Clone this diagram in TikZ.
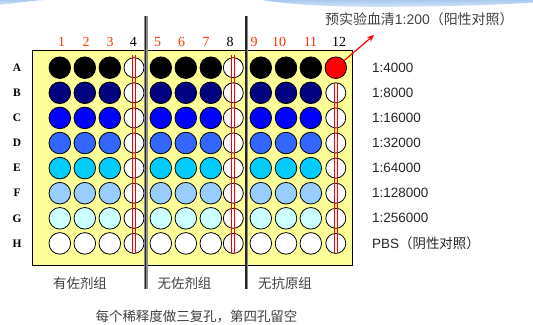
\documentclass[tikz,border=0pt]{standalone}
\usepackage{fontspec}
\setmainfont{Liberation Sans}
\newfontfamily\cjk{Noto Sans CJK SC}
\newfontfamily\tms{Liberation Serif}
\usetikzlibrary{arrows.meta}
\definecolor{plate}{HTML}{FFFF99}
\definecolor{cB}{HTML}{000080}
\definecolor{cC}{HTML}{0000FF}
\definecolor{cD}{HTML}{3366FF}
\definecolor{cE}{HTML}{00CCFF}
\definecolor{cF}{HTML}{99CCFF}
\definecolor{cG}{HTML}{CCFFFF}
\definecolor{cH}{HTML}{FFFFFF}
\definecolor{cA}{HTML}{000000}
\definecolor{numred}{HTML}{FF3300}
\definecolor{wavedark}{HTML}{A9C9EE}
\definecolor{wavelight}{HTML}{DCEBF9}
\tikzset{
  well/.style={circle, draw=black, line width=0.8bp, inner sep=0pt, minimum size=21.6bp},
  ctrl/.style={circle, draw=black, line width=0.8bp, inner sep=0pt, minimum size=20bp, fill=white},
  colnum/.style={font=\tms\fontsize{14}{16}\selectfont, inner sep=0pt},
  rowlab/.style={font=\tms\bfseries\fontsize{11.5}{13}\selectfont, inner sep=0pt},
  ratio/.style={font=\fontsize{13.5}{16}\selectfont, anchor=west, inner sep=0pt, text=black!85},
  cjklab/.style={font=\cjk\fontsize{13.5}{16}\selectfont, inner sep=0pt, text=black!75},
  redline/.style={red, line width=0.9bp},
}
\begin{document}
\begin{tikzpicture}[x=1bp,y=-1bp]
\useasboundingbox (0,0) rectangle (533,324);
% template wave
\shade[top color=wavedark, bottom color=wavelight] (262,0) .. controls (310,8) and (380,7) .. (420,6.5) .. controls (470,6) and (510,4) .. (533,2.5) -- (533,0) -- cycle;
\shade[top color=wavedark, bottom color=wavelight] (0,5) .. controls (15,3) and (30,1) .. (44,0) -- (0,0) -- cycle;
% plate
\draw[fill=plate, line width=0.8bp] (32,50.7) rectangle (352.7,265);
% wells
\foreach \row/\y in {A/67.7,B/92.8,C/117.9,D/143.0,E/168.1,F/193.2,G/218.3,H/243.4}{
  \foreach \c/\x in {1/59.8,2/84.8,3/109.8,5/160.8,6/185.8,7/210.8,9/260.8,10/286,11/310.8}{
    \node[well, fill=c\row] (w\row\c) at (\x,\y) {};
  }
  \node[ctrl] (w\row4) at (134,\y) {};
  \node[ctrl] (w\row8) at (233.3,\y) {};
  \node[rowlab] (r\row) at (17,\y) {\row};
}
\foreach \row/\y in {B/92.8,C/117.9,D/143.0,E/168.1,F/193.2,G/218.3,H/243.4}{
  \node[ctrl] (w\row12) at (335.8,\y) {};
}
\node[well, fill=red] (wA12) at (335.8,67.7) {};
% red stripes in empty columns
\foreach \x in {134,233.3}{
  \draw[redline] (\x-1.6,55) -- (\x-1.6,253.4);
  \draw[redline] (\x+1.6,55) -- (\x+1.6,253.4);
}
\draw[redline] (335.8-1.6,82.8) -- (335.8-1.6,253.4);
\draw[redline] (335.8+1.6,82.8) -- (335.8+1.6,253.4);
% dividers
\foreach \x in {145.5,246}{
  \draw[black!45, line width=3.4bp] (\x+0.4,15.7) -- (\x+0.4,289);
  \draw[black!85, line width=1.7bp] (\x,15.7) -- (\x,289);
}
% column numbers
\foreach \n/\x/\clr in {1/61.7/numred,2/86/numred,3/110/numred,4/133.3/black,5/157.7/numred,6/181.7/numred,7/206/numred,8/230/black,9/254/numred,10/279/numred,11/310.5/numred,12/339/black}{
  \node[colnum, text=\clr] (n\n) at (\x,42.3) {\n};
}
% ratio labels
\node[ratio] (lA) at (372,67.7) {1:4000};
\node[ratio] (lB) at (372,92.8) {1:8000};
\node[ratio] (lC) at (372,117.9) {1:16000};
\node[ratio] (lD) at (372,143.0) {1:32000};
\node[ratio] (lE) at (372,168.1) {1:64000};
\node[ratio] (lF) at (372,193.2) {1:128000};
\node[ratio] (lG) at (372,218.3) {1:256000};
\node[ratio] (lH) at (372,243.4) {PBS{\cjk（阴性对照）}};
% positive control label and arrow
\node[cjklab, anchor=west, font=\cjk\fontsize{14}{16}\selectfont] (pos) at (325,19) {预实验血清{\rmfamily 1:200}（阳性对照）};
\coordinate (arrowend) at (374,35);
\draw[red, line width=1.2bp, -{Stealth[length=7bp,width=6bp]}] (wA12) -- (arrowend);
% group labels
\node[cjklab] (g1) at (80,283) {有佐剂组};
\node[cjklab] (g2) at (184.5,283) {无佐剂组};
\node[cjklab] (g3) at (285,283) {无抗原组};
\node[cjklab] (cap) at (196.5,317) {每个稀释度做三复孔，第四孔留空};
\end{tikzpicture}
\end{document}
